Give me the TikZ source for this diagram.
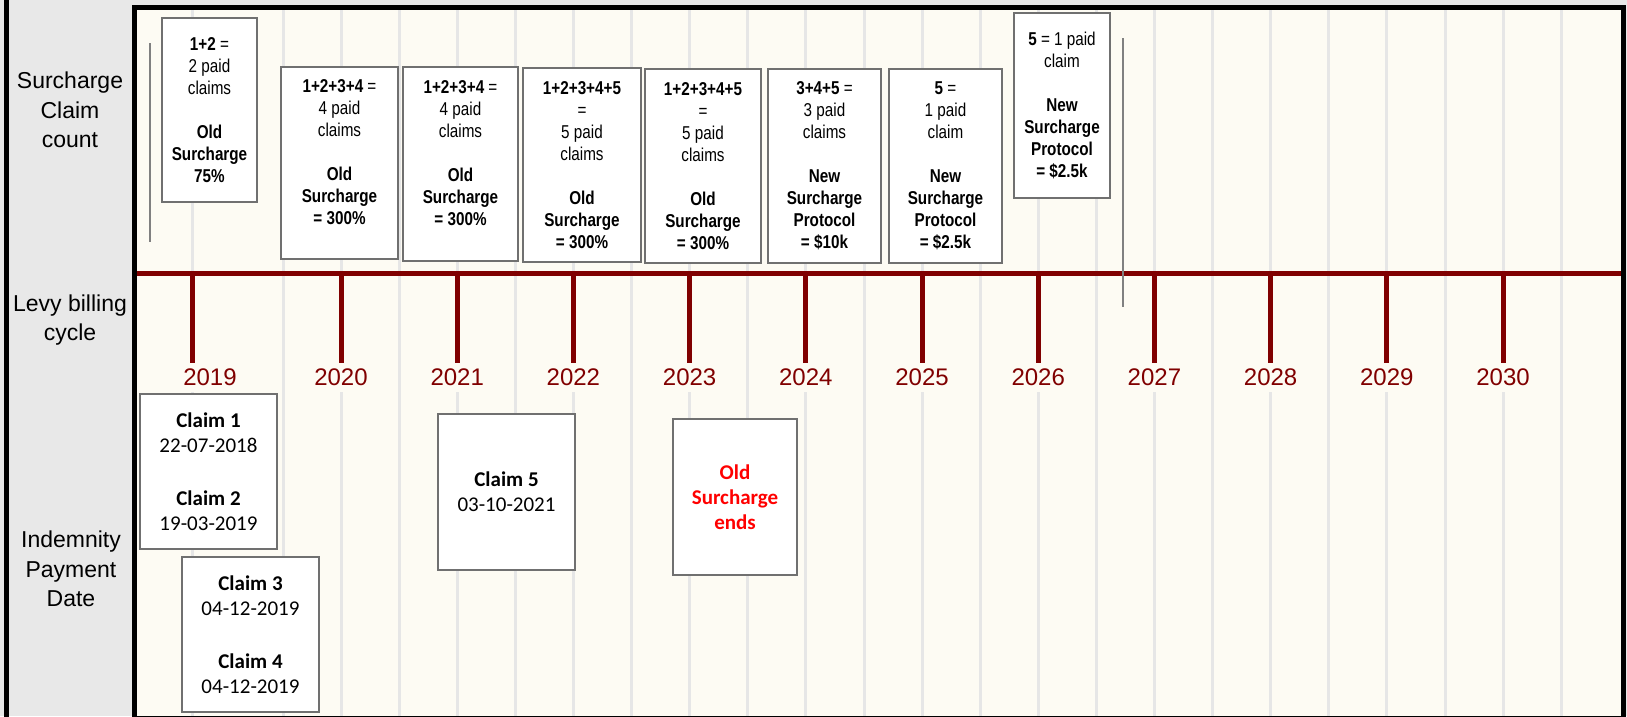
\documentclass[tikz,border=0pt]{standalone}
\usepackage{fontspec}
\setmainfont{Liberation Sans}
\newfontfamily\narrowfont[FakeStretch=0.82]{Liberation Sans}
\newfontfamily\calfont{Carlito}
\definecolor{panelgray}{RGB}{232,232,232}
\definecolor{cream}{RGB}{253,251,243}
\definecolor{gridgray}{RGB}{230,230,230}
\definecolor{boxgray}{RGB}{112,112,112}
\definecolor{darkred}{RGB}{128,0,0}
\definecolor{linegray}{RGB}{128,128,128}
\begin{document}
\begin{tikzpicture}[x=1pt,y=-1pt,
  topbox/.style={draw=boxgray, line width=1.5pt, fill=white, inner sep=0pt, align=center,
    font=\narrowfont\fontsize{18.6}{22}\selectfont},
  botbox/.style={draw=boxgray, line width=1.5pt, fill=white, inner sep=0pt, align=center,
    font=\calfont\fontsize{21}{25}\selectfont},
  yearlbl/.style={fill=cream, text=darkred, font=\fontsize{24}{28}\selectfont, inner xsep=3pt, inner ysep=6pt},
  sidelbl/.style={align=center, font=\fontsize{23}{29.5}\selectfont},
  gridline/.style={draw=gridgray, line width=3pt},
  redline/.style={draw=darkred, line width=5pt},
  markline/.style={draw=linegray, line width=1.5pt}
]
\useasboundingbox (0,0) rectangle (1627,716);
\clip (0,0) rectangle (1627,716);
% backgrounds
\fill[panelgray] (0,0) rectangle (1627,716);
\fill[cream] (134.5,7.5) rectangle (1623.5,718);
% grid lines
\draw[gridline] (192,10) -- (192,716);
\foreach \k in {0,...,22} {
  \draw[gridline] ({283+58.1*\k},10) -- ({283+58.1*\k},716);
}
% side labels
\node[sidelbl] (lsur) at (70,110) {Surcharge\\Claim\\count};
\node[sidelbl] (llevy) at (70,320) {Levy billing\\cycle};
\node[sidelbl] (lind) at (71,569) {Indemnity\\Payment\\Date};
% year labels
\node[yearlbl] (y2019) at (210,377) {2019};
\foreach \i/\yr in {0/2020,1/2021,2/2022,3/2023,4/2024,5/2025,6/2026,7/2027,8/2028,9/2029,10/2030} {
  \node[yearlbl] (y\yr) at ({341+116.2*\i},377) {\yr};
}
% timeline
\draw[redline] (137,273.5) -- (1621,273.5);
\coordinate (t2019a) at (192,273.5);
\coordinate (t2019b) at (192,363);
\draw[redline] (t2019a) -- (t2019b);
\foreach \i in {0,...,10} {
  \draw[redline] ({341+116.2*\i},273.5) -- ({341+116.2*\i},363);
}
% marker lines
\coordinate (m1a) at (150,43);
\coordinate (m1b) at (150,242);
\coordinate (m2a) at (1123,38);
\coordinate (m2b) at (1123,307);
\draw[markline] (m1a) -- (m1b);
\draw[markline] (m2a) -- (m2b);
% top boxes
\node[topbox, minimum width=95pt, minimum height=184pt] (bA) at (209.5,110)
  {\textbf{1+2} =\\2 paid\\claims\\[22pt]\textbf{Old}\\\textbf{Surcharge}\\\textbf{75\%}};
\node[topbox, minimum width=117pt, minimum height=192pt] (bB) at (339.5,163)
  {\textbf{1+2+3+4} =\\4 paid\\claims\\[22pt]\textbf{Old}\\\textbf{Surcharge}\\\textbf{= 300\%}\\\mbox{}};
\node[topbox, minimum width=115pt, minimum height=194pt] (bC) at (460.5,164)
  {\textbf{1+2+3+4} =\\4 paid\\claims\\[22pt]\textbf{Old}\\\textbf{Surcharge}\\\textbf{= 300\%}\\\mbox{}};
\node[topbox, minimum width=118pt, minimum height=194pt] (bD) at (582,165)
  {\textbf{1+2+3+4+5}\\=\\5 paid\\claims\\[22pt]\textbf{Old}\\\textbf{Surcharge}\\\textbf{= 300\%}};
\node[topbox, minimum width=116pt, minimum height=194pt] (bE) at (703,166)
  {\textbf{1+2+3+4+5}\\=\\5 paid\\claims\\[22pt]\textbf{Old}\\\textbf{Surcharge}\\\textbf{= 300\%}};
\node[topbox, minimum width=113pt, minimum height=194pt] (bF) at (824.5,166)
  {\textbf{3+4+5} =\\3 paid\\claims\\[22pt]\textbf{New}\\\textbf{Surcharge}\\\textbf{Protocol}\\\textbf{= \$10k}};
\node[topbox, minimum width=113pt, minimum height=194pt] (bG) at (945.5,166)
  {\textbf{5} =\\1 paid\\claim\\[22pt]\textbf{New}\\\textbf{Surcharge}\\\textbf{Protocol}\\\textbf{= \$2.5k}};
\node[topbox, minimum width=96pt, minimum height=185pt] (bH) at (1062,105.5)
  {\textbf{5} = 1 paid\\claim\\[22pt]\textbf{New}\\\textbf{Surcharge}\\\textbf{Protocol}\\\textbf{= \$2.5k}};
% bottom boxes
\node[botbox, minimum width=137pt, minimum height=155pt] (c12) at (208.5,471.5)
  {\textbf{Claim 1}\\22-07-2018\\[28pt]\textbf{Claim 2}\\19-03-2019};
\node[botbox, minimum width=137pt, minimum height=155pt] (c34) at (250.5,634.5)
  {\textbf{Claim 3}\\04-12-2019\\[28pt]\textbf{Claim 4}\\04-12-2019};
\node[botbox, minimum width=137pt, minimum height=156pt] (c5) at (506.5,492)
  {\textbf{Claim 5}\\03-10-2021};
\node[botbox, minimum width=124pt, minimum height=156pt, text=red] (ose) at (735,497)
  {\textbf{Old}\\\textbf{Surcharge}\\\textbf{ends}};
% frames
\draw[line width=5pt] (6.5,-5) -- (6.5,720);
\draw[line width=5pt] (134.5,7.5) rectangle (1623.5,718);
\end{tikzpicture}
\end{document}
